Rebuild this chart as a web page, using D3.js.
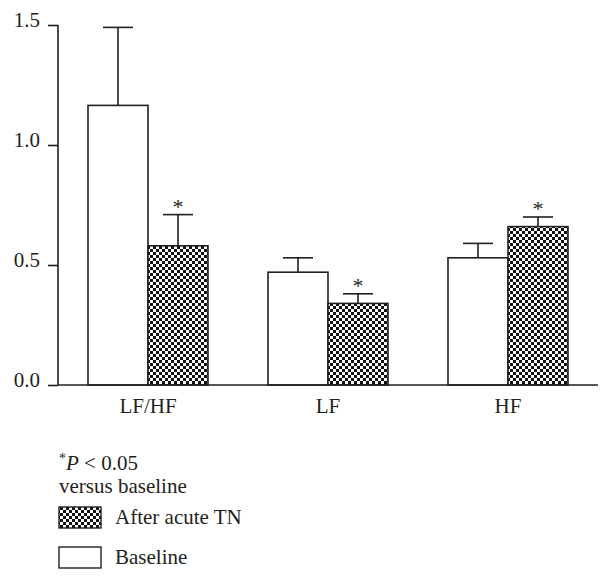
<!DOCTYPE html>
<html>
<head>
<script src="https://d3js.org/d3.v7.min.js"></script>
<style>
  body { margin: 0; background: #fff; }
  text { font-family: "Liberation Serif", "DejaVu Serif", serif; fill: #231f20; }
</style>
</head>
<body>
<svg width="612" height="583"></svg>
<script>
// data
const categories = ["LF/HF", "LF", "HF"];
const series = ["Baseline", "After acute TN"];
const baselineMean = [1.165, 0.47, 0.53];
const baselineErr  = [0.325, 0.06, 0.06];
const afterMean    = [0.58, 0.34, 0.66];
const afterErr     = [0.13, 0.04, 0.04];
const significant  = [true, true, true];
const yTicks = [0.0, 0.5, 1.0, 1.5];

const svg = d3.select("svg");
const ink = "#231f20";
const fs = 21;

// checker pattern
const defs = svg.append("defs");
const pat = defs.append("pattern")
    .attr("id", "checker")
    .attr("patternUnits", "userSpaceOnUse")
    .attr("width", 6).attr("height", 6);
pat.append("rect").attr("width", 6).attr("height", 6).attr("fill", "#111");
pat.append("rect").attr("x", 0).attr("y", 0).attr("width", 3).attr("height", 3).attr("fill", "#fff");
pat.append("rect").attr("x", 3).attr("y", 3).attr("width", 3).attr("height", 3).attr("fill", "#fff");

const axisX = 58, plotRight = 598, baseY = 385;

const y = d3.scaleLinear().domain([0, 1.5]).range([baseY, 25]);
const x0 = d3.scaleBand().domain(categories).range([58, 598]).paddingInner(1/3).paddingOuter(1/6);
const x1 = d3.scaleBand().domain(series).range([0, x0.bandwidth()]);

const g = svg.append("g");

const rows = categories.map((c, i) => [
  {cat: c, s: "Baseline", v: baselineMean[i], e: baselineErr[i], sig: false},
  {cat: c, s: "After acute TN", v: afterMean[i], e: afterErr[i], sig: significant[i]}
]).flat();

// error bars (drawn first, bars sit on top)
rows.forEach(d => {
  const cx = x0(d.cat) + x1(d.s) + x1.bandwidth() / 2;
  g.append("line")
    .attr("x1", cx).attr("x2", cx)
    .attr("y1", y(d.v)).attr("y2", y(d.v + d.e))
    .attr("stroke", ink).attr("stroke-width", 1.6);
  g.append("line")
    .attr("x1", cx - 15).attr("x2", cx + 15)
    .attr("y1", y(d.v + d.e)).attr("y2", y(d.v + d.e))
    .attr("stroke", ink).attr("stroke-width", 1.6);
  if (d.sig) {
    g.append("text")
      .attr("x", cx).attr("y", y(d.v + d.e) - 1)
      .attr("text-anchor", "middle")
      .attr("font-size", 22)
      .text("*");
  }
});

g.selectAll(".bar")
  .data(rows)
  .enter().append("rect")
  .attr("class", "bar")
  .attr("x", d => x0(d.cat) + x1(d.s))
  .attr("y", d => y(d.v))
  .attr("width", x1.bandwidth())
  .attr("height", d => baseY - y(d.v))
  .attr("fill", d => d.s === "Baseline" ? "#fff" : "url(#checker)")
  .attr("stroke", ink)
  .attr("stroke-width", 1.6);

// y axis
const yAxis = svg.append("g")
  .attr("transform", `translate(${axisX},0)`)
  .call(d3.axisLeft(y).tickValues(yTicks).tickFormat(d3.format(".1f")).tickSize(10).tickPadding(8));
yAxis.select(".domain").attr("stroke", ink).attr("stroke-width", 1.6).attr("d", `M0,${y(1.5)}V${baseY}`);
yAxis.selectAll(".tick line").attr("stroke", ink).attr("stroke-width", 1.6);
yAxis.selectAll(".tick text").attr("font-size", fs).attr("dy", "0.08em").attr("fill", ink);

// x axis
const xAxis = svg.append("g")
  .attr("transform", `translate(0,${baseY})`)
  .call(d3.axisBottom(x0).tickSize(0).tickPadding(13));
xAxis.select(".domain").attr("stroke", ink).attr("stroke-width", 1.6).attr("d", `M${axisX},0H${plotRight}`);
xAxis.selectAll(".tick text").attr("font-size", fs).attr("fill", ink);

// legend
const leg = svg.append("g");
const note = leg.append("text").attr("x", 59).attr("y", 470).attr("font-size", fs);
note.append("tspan").attr("font-size", 14).attr("dy", -7).text("*");
note.append("tspan").attr("font-style", "italic").attr("dy", 7).text("P");
note.append("tspan").text(" < 0.05");
leg.append("text").attr("x", 59).attr("y", 493).attr("font-size", fs).text("versus baseline");

const legendItems = [
  {label: "After acute TN", fill: "url(#checker)"},
  {label: "Baseline", fill: "#fff"}
];
legendItems.forEach((d, i) => {
  const yy = 507 + i * 40;
  leg.append("rect").attr("x", 59).attr("y", yy).attr("width", 42).attr("height", 21)
    .attr("fill", d.fill).attr("stroke", ink).attr("stroke-width", 1.4);
  leg.append("text").attr("x", 115).attr("y", yy + 17).attr("font-size", fs).text(d.label);
});
</script>
</body>
</html>
